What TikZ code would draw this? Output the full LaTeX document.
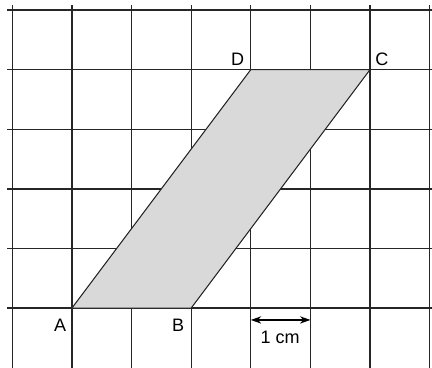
\documentclass[tikz,border=0pt]{standalone}
\usepackage{fontspec}
\setmainfont{Liberation Sans}
\usetikzlibrary{arrows.meta}
\begin{document}
\begin{tikzpicture}[
  gridline/.style={line width=0.65pt, black!85},
  parshape/.style={draw=black!85, line width=0.5pt, fill=black!15},
  lbl/.style={font=\fontsize{8.6pt}{10pt}\selectfont, inner sep=0pt},
  dim/.style={line width=0.6pt, {Stealth[length=5pt,width=3.5pt]}-{Stealth[length=5pt,width=3.5pt]}}
]
\useasboundingbox (-1.208,-0.990) rectangle (6.040,5.168);
\clip (-1.208,-0.990) rectangle (6.040,5.168);
% grid
\foreach \x in {-1,...,6} \draw[gridline] (\x,5.084) -- (\x,-1.1);
\foreach \y in {0,...,5} \draw[gridline] (-1.09,\y) -- (6.1,\y);
% parallelogram
\coordinate (A) at (0,0);
\coordinate (B) at (2,0);
\coordinate (C) at (5,4);
\coordinate (D) at (3,4);
\draw[parshape] (A) -- (B) -- (C) -- (D) -- cycle;
% labels
\node[lbl] (la) at (-0.20,-0.29) {A};
\node[lbl] (lb) at (1.78,-0.29) {B};
\node[lbl] (lc) at (5.20,4.18) {C};
\node[lbl] (ld) at (2.78,4.18) {D};
% dimension
\coordinate (d1) at (3,-0.20);
\coordinate (d2) at (4,-0.20);
\draw[dim] (d1) -- (d2);
\node[lbl] (cm) at (3.49,-0.50) {1 cm};
\end{tikzpicture}
\end{document}
